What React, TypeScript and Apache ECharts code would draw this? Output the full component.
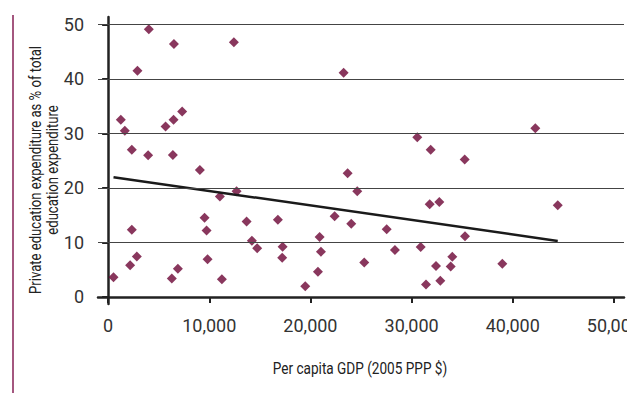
import React, { useEffect, useRef } from "react";
import * as echarts from "echarts";

const gdp: number[] = [
  4026, 6508, 12433, 2900, 1256, 1652, 2344, 3956, 5677, 6469, 7320, 6400, 9070, 11048, 12700,
  23283, 42235, 30564, 31889, 35252, 23680, 24630,
  534, 2344, 2176, 2839, 6300, 6894, 9535, 9733, 9832, 11246, 13690, 14214, 14738, 16785, 17250, 17211, 19486,
  20910, 21039, 20742, 22394, 24036, 25322, 27537, 28358, 30900, 31424, 31790, 32740, 32413, 32839, 33867, 34025, 35282, 38971, 44450,
];
const privateShare: number[] = [
  49.1, 46.4, 46.7, 41.5, 32.5, 30.5, 27.0, 26.0, 31.25, 32.5, 34.0, 26.05, 23.3, 18.4, 19.4,
  41.1, 30.95, 29.3, 27.0, 25.2, 22.7, 19.4,
  3.6, 12.3, 5.8, 7.4, 3.4, 5.15, 14.5, 12.2, 6.9, 3.25, 13.85, 10.3, 8.95, 14.15, 9.2, 7.2, 1.97,
  11.0, 8.3, 4.6, 14.8, 13.4, 6.3, 12.4, 8.6, 9.15, 2.3, 17.0, 17.4, 5.65, 2.95, 5.6, 7.35, 11.15, 6.1, 16.8,
];
const trendX: number[] = [534, 44450];
const trendY: number[] = [21.96, 10.27];
const xTicks: number[] = [0, 10000, 20000, 30000, 40000, 50000];
const yTicks: number[] = [0, 10, 20, 30, 40, 50];
const xTitle = "Per capita GDP (2005 PPP $)";
const yTitle = "Private education expenditure as % of total\neducation expenditure";

const FONT = "Roboto, 'DejaVu Sans', sans-serif";

export default function App() {
  const ref = useRef<HTMLDivElement>(null);
  useEffect(() => {
    if (!ref.current) return;
    const chart = echarts.init(ref.current, undefined, { renderer: "svg" });
    const points = gdp.map((g, i) => [g, privateShare[i]]);
    const trend = trendX.map((x, i) => [x, trendY[i]]);
    chart.setOption({
      animation: false,
      grid: { left: 98, right: 3, top: 17, bottom: 89, outerBoundsMode: "none", containLabel: false },
      graphic: [
        {
          type: "line",
          shape: { x1: 13, y1: 15, x2: 13, y2: 393 },
          style: { stroke: "#a4577f", lineWidth: 2 },
        },
        {
          type: "text",
          x: 360,
          y: 369,
          scaleX: 0.85,
          style: {
            text: xTitle,
            fontFamily: FONT,
            fontSize: 16,
            fill: "#222",
            align: "center",
            verticalAlign: "middle",
          },
        },
        {
          type: "text",
          x: 44,
          y: 170,
          rotation: Math.PI / 2,
          scaleX: 0.82,
          style: {
            text: yTitle,
            fontFamily: FONT,
            fontSize: 16,
            lineHeight: 17,
            fill: "#222",
            align: "center",
            verticalAlign: "middle",
          },
        },
      ],
      xAxis: {
        type: "value",
        min: -1000,
        max: 51000,
        axisLine: { show: true, lineStyle: { color: "#222", width: 2.5 } },
        axisTick: { show: true, customValues: xTicks, length: 6, lineStyle: { color: "#222", width: 2 } },
        axisLabel: {
          customValues: xTicks,
          margin: 12,
          fontFamily: FONT,
          fontSize: 18,
          color: "#333",
          formatter: (v: number) => v.toLocaleString("en-US"),
        },
        splitLine: { show: false },
      },
      yAxis: {
        type: "value",
        min: -1.3,
        max: 51.35,
        axisLine: { show: true, lineStyle: { color: "#222", width: 2.5 } },
        axisTick: { show: true, customValues: yTicks, length: 6, lineStyle: { color: "#222", width: 2 } },
        axisLabel: { customValues: yTicks, margin: 14, fontFamily: FONT, fontSize: 18, color: "#333" },
        splitLine: { show: false },
      },
      series: [
        {
          type: "scatter",
          data: points,
          symbol: "diamond",
          symbolSize: [10, 10],
          itemStyle: { color: "#6c0535" },
          markLine: {
            silent: true,
            symbol: "none",
            label: { show: false },
            lineStyle: { color: "#444", width: 1, type: "solid" },
            data: yTicks.filter((t) => t > 0).map((t) => ({ yAxis: t })),
          },
          z: 3,
        },
        {
          type: "line",
          data: trend,
          symbol: "none",
          lineStyle: { color: "#1a1a1a", width: 2.5 },
          z: 4,
        },
      ],
    });
    return () => chart.dispose();
  }, []);
  return (
    <div
      ref={ref}
      style={{ position: "absolute", left: 0, top: 0, width: 627, height: 393 }}
    />
  );
}
